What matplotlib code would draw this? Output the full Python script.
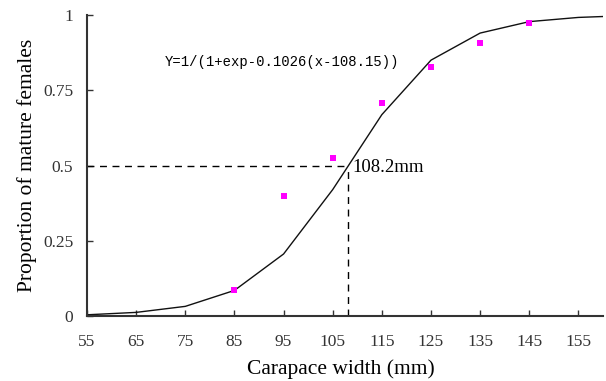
import matplotlib.pyplot as plt

# fitted logistic curve
curve_x = [55, 65, 75, 85, 95, 105, 115, 125, 135, 145, 155, 160]
curve_y = [0.004, 0.012, 0.032, 0.085, 0.206, 0.42, 0.669, 0.85, 0.94, 0.978, 0.992, 0.995]

# observed proportions
obs_x = [85, 95, 105, 115, 125, 135, 145]
obs_y = [0.085, 0.399, 0.525, 0.708, 0.827, 0.907, 0.973]

l50 = 108.2
xticks = [55, 65, 75, 85, 95, 105, 115, 125, 135, 145, 155]
yticks = [0, 0.25, 0.5, 0.75, 1]
ytick_labels = ['0', '0.25', '0.5', '0.75', '1']

plt.rcParams['font.family'] = ['Liberation Serif', 'DejaVu Serif']

fig = plt.figure(figsize=(6.06, 3.81), dpi=100)
ax = fig.add_axes([0.1436, 0.1706, 0.8514, 0.7900])

ax.plot(curve_x, curve_y, '-', color='#111111', linewidth=1.0)
ax.plot(obs_x, obs_y, 's', color='#ff00ff', markersize=5, markeredgewidth=0)

ax.plot([55, l50], [0.5, 0.5], '--', color='black', linewidth=1.0, dashes=(5, 4))
ax.plot([l50, l50], [0, 0.5], '--', color='black', linewidth=1.0, dashes=(5, 4))

ax.text(l50 + 0.9, 0.495, '108.2mm', fontsize=13.5, va='center', ha='left')
ax.text(70.8, 0.845, 'Y=1/(1+exp-0.1026(x-108.15))', fontsize=10,
        family='Liberation Mono', va='center', ha='left')

ax.set_xlim(55, 160)
ax.set_ylim(0, 1)
ax.set_xticks(xticks)
ax.set_yticks(yticks)
ax.set_yticklabels(ytick_labels)
ax.tick_params(direction='in', length=4, width=1, colors='#333333', labelsize=12.5)
ax.tick_params(axis='x', pad=13)
ax.tick_params(axis='y', pad=10)

for s in ['top', 'right']:
    ax.spines[s].set_visible(False)
for s in ['left', 'bottom']:
    ax.spines[s].set_color('#333333')
    ax.spines[s].set_linewidth(1.5)

ax.set_xlabel('Carapace width (mm)', fontsize=15.5)
ax.set_ylabel('Proportion of mature females', fontsize=15.5)
ax.xaxis.set_label_coords(0.492, -0.145)
ax.yaxis.set_label_coords(-0.096, 0.5)

fig.savefig('out.png', dpi=100)
